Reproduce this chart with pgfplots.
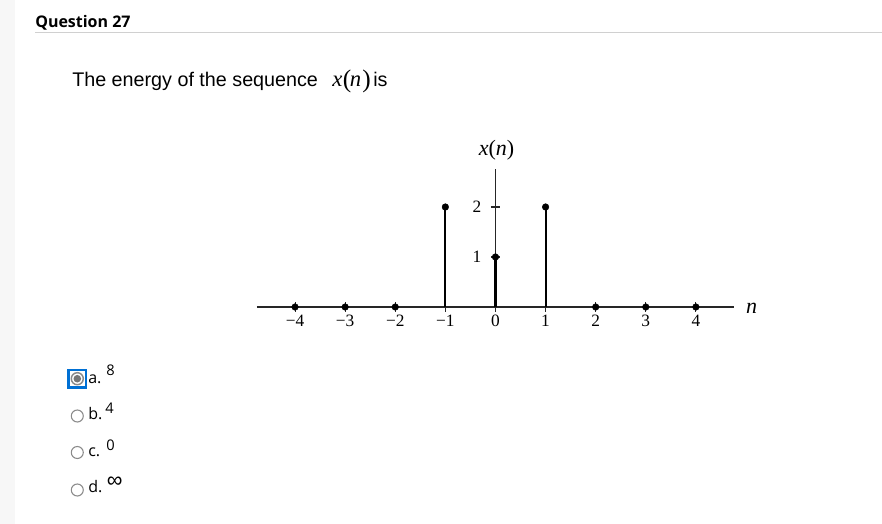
\documentclass[border=0pt]{standalone}
\usepackage{fontspec}
\usepackage{pgfplots}
\pgfplotsset{compat=1.18}
\newfontfamily\opensans{Open Sans}
\newfontfamily\libsans{Liberation Sans}
\newfontfamily\libserif{Liberation Serif}
\definecolor{stripgray}{HTML}{F7F7F7}
\definecolor{rulegray}{HTML}{D0D0D0}
\definecolor{radiogray}{HTML}{8A8A8A}
\definecolor{dotgray}{HTML}{767676}
\definecolor{focusblue}{RGB}{0,112,212}
\definecolor{axisblack}{HTML}{262626}

\begin{document}
\begin{tikzpicture}
\begin{scope}[x=0.75pt,y=-0.75pt]
\fill[white] (0,0) rectangle (882,524);
\path[use as bounding box] (0,0) rectangle (882,524);
\fill[stripgray] (0,0) rectangle (15,524);
\draw[rulegray, line width=0.75pt] (35,33) -- (882,33);
\node[anchor=base west, inner sep=0pt, font=\opensans\bfseries\fontsize{12}{15}\selectfont] at (35,28) {Question 27};
% question text
\node[anchor=base west, inner sep=0pt, font=\libsans\fontsize{14.8}{18}\selectfont] at (72,87) {The energy of the sequence};
\node[anchor=base west, inner sep=0pt, font=\libserif\itshape\fontsize{17}{20}\selectfont] at (332,87) {x};
\node[anchor=base west, inner sep=0pt, font=\libserif\fontsize{19}{22}\selectfont] at (342.5,88) {(};
\node[anchor=base west, inner sep=0pt, font=\libserif\itshape\fontsize{17}{20}\selectfont] at (349.5,87) {n};
\node[anchor=base west, inner sep=0pt, font=\libserif\fontsize{19}{22}\selectfont] at (362,88) {)};
\node[anchor=base west, inner sep=0pt, font=\libsans\fontsize{14.8}{18}\selectfont] at (373,87) {is};
% options
\draw[focusblue, line width=1.6pt] (68.5,370) rectangle (86,387.5);
\draw[radiogray, line width=1.1pt, fill=white] (77.3,378.7) circle (6);
\fill[dotgray] (77.3,378.7) circle (3.8);
\draw[radiogray, line width=0.8pt] (77.3,416) circle (6);
\draw[radiogray, line width=0.8pt] (77.3,452.5) circle (6);
\draw[radiogray, line width=0.8pt] (77.3,490) circle (6);
\node[anchor=base west, inner sep=0pt, font=\opensans\fontsize{12}{14}\selectfont] at (88,383.5) {a.};
\node[anchor=base west, inner sep=0pt, font=\opensans\fontsize{12}{14}\selectfont] at (88,419) {b.};
\node[anchor=base west, inner sep=0pt, font=\opensans\fontsize{12}{14}\selectfont] at (88,456) {c.};
\node[anchor=base west, inner sep=0pt, font=\opensans\fontsize{12}{14}\selectfont] at (88,492.5) {d.};
\node[anchor=base west, inner sep=0pt, font=\opensans\fontsize{11}{13}\selectfont] at (106,375.5) {8};
\node[anchor=base west, inner sep=0pt, font=\opensans\fontsize{11}{13}\selectfont] at (105,413.5) {4};
\node[anchor=base west, inner sep=0pt, font=\opensans\fontsize{11}{13}\selectfont] at (106,450.5) {0};
\node[anchor=base west, inner sep=0pt, font=\libsans\fontsize{16.5}{18}\selectfont] at (106.5,487) {∞};
\end{scope}
\begin{axis}[
  at={(371.6pt,-230.25pt)}, anchor=origin,
  x=37.58pt, y=37.5pt,
  xmin=-4.76, xmax=4.76, ymin=0, ymax=2.76,
  axis lines=middle,
  axis line style={-, line width=0.9pt, axisblack},
  xtick={-4,-3,-2,-1,0,1,2,3,4},
  xticklabels={−4,−3,−2,−1,0,1,2,3,4},
  ytick={1,2},
  yticklabels={1,2},
  hide obscured x ticks=false,
  hide obscured y ticks=false,
  tick align=center,
  major tick length=7pt,
  tick style={axisblack, line width=0.8pt},
  xticklabel style={font=\libserif\fontsize{13}{15}\selectfont, anchor=north, inner sep=0pt, yshift=-2.5pt},
  yticklabel style={font=\libserif\fontsize{13}{15}\selectfont, anchor=east, inner sep=0pt, xshift=-7pt},
  clip=false,
]
\addplot[ycomb, black, line width=1.6pt, mark=*, mark size=2.5pt, mark options={line width=0.3pt}]
  coordinates {(-4,0) (-3,0) (-2,0) (-1,2) (0,1) (1,2) (2,0) (3,0) (4,0)};
\node[inner sep=0pt, font=\libserif\fontsize{16.5}{19}\selectfont] at (axis cs:0.02,3.13) {{\itshape x}({\itshape n})};
\node[inner sep=0pt, font=\libserif\itshape\fontsize{16.5}{19}\selectfont] at (axis cs:5.11,-0.02) {n};
\end{axis}
\end{tikzpicture}
\end{document}
